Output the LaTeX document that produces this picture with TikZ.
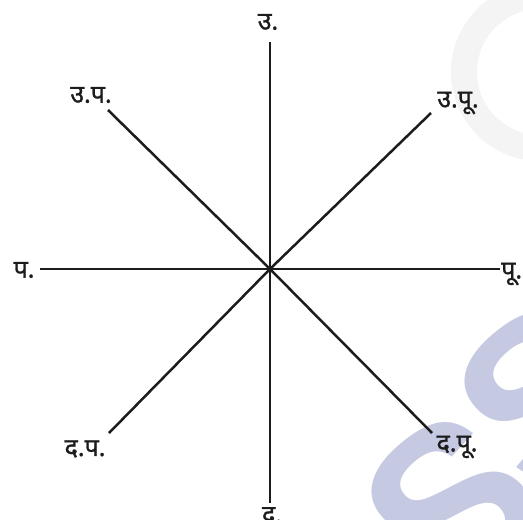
\documentclass[tikz,border=0pt]{standalone}
\usepackage{fontspec}
\newfontfamily\deva[Script=Devanagari,FakeBold=1.2]{Noto Sans}
\newfontfamily\wmfont{Liberation Sans}
\definecolor{ink}{RGB}{28,28,28}
\definecolor{wm}{RGB}{197,201,225}
\definecolor{ring}{RGB}{244,244,244}
\begin{document}
\begin{tikzpicture}[x=1pt,y=-1pt,
  axis/.style={draw=ink,line width=2.5pt},
  lbl/.style={font=\deva\fontsize{25}{28}\selectfont,text=ink,inner sep=0pt},
  wmS/.style={text=wm,font=\wmfont\bfseries\fontsize{225}{225}\selectfont,inner sep=0pt}]
\useasboundingbox (0,0) rectangle (523,520);
\clip (0,0) rectangle (523,520);
% watermark
\draw[ring,line width=26pt] (540,72) circle (76);
\node[wmS,rotate=40] at (452,505) {S};
\node[wmS,rotate=40] at (545,395) {S};
% geometry
\coordinate (C) at (270,269);
\coordinate (nN) at (270,42);
\coordinate (nS) at (270,503);
\coordinate (nW) at (40,269);
\coordinate (nE) at (500,269);
\coordinate (nNE) at (431,113);
\coordinate (nNW) at (108,110);
\coordinate (nSW) at (109,433);
\coordinate (nSE) at (432,433);
\foreach \e in {nN,nS,nW,nE,nNE,nNW,nSW,nSE}
  \draw[axis] (C) -- (\e);
% labels
\node[lbl] (lN) at (268,22) {उ.};
\node[lbl] (lNW) at (91,95) {उ.प.};
\node[lbl] (lNE) at (458,103) {उ.पू.};
\node[lbl] (lW) at (24,270) {प.};
\node[lbl,anchor=west] (lE) at (501,274) {पू.};
\node[lbl] (lSW) at (85,449) {द.प.};
\node[lbl] (lSE) at (457,447) {द.पू.};
\node[lbl,anchor=north] (lS) at (272,507) {द.};
\end{tikzpicture}
\end{document}
